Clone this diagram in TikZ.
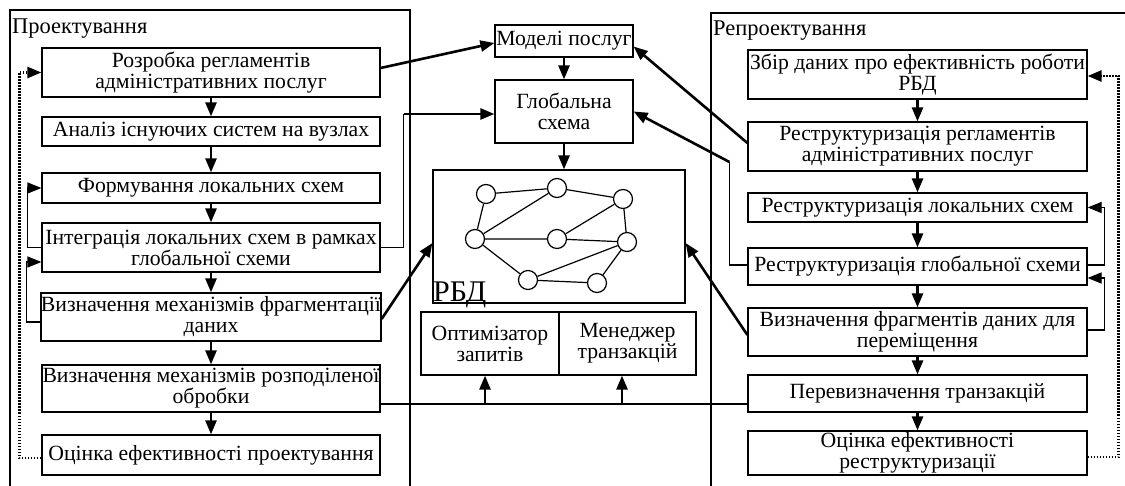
\documentclass[tikz,border=0pt]{standalone}
\usepackage{fontspec}
\setmainfont{Liberation Serif}
\usetikzlibrary{arrows.meta}
\newcommand\diafont{\fontsize{21.7}{21}\selectfont}
\newcommand\ttlfont{\fontsize{22.5}{22}\selectfont}
\begin{document}
\begin{tikzpicture}[x=1pt,y=-1pt,
  box/.style={draw, line width=1.2pt, inner sep=0pt, align=center, font=\diafont},
  lbox/.style={box, minimum width=338pt},
  rbox/.style={box, minimum width=339pt},
  frame/.style={draw, line width=1.2pt},
  thinline/.style={line width=1.2pt},
  thickline/.style={line width=2.6pt},
  arr/.style={-{Triangle[length=14pt,width=11pt]}},
  dotline/.style={line width=2.6pt, dash pattern=on 1.5pt off 1.5pt},
  vtx/.style={circle, draw, line width=1.2pt, minimum size=19pt, inner sep=0pt, fill=white},
  title/.style={anchor=base west, inner sep=0pt, font=\ttlfont}]
\useasboundingbox (0,0) rectangle (1125,486);
\clip (0,0) rectangle (1125,486);
% frames
\draw[frame] (10,495) -- (10,10) -- (410,10) -- (410,495);
\draw[frame] (711,495) -- (711,13) -- (1135,13);
\node[title] (t1) at (12,34) {Проектування};
\node[title] (t2) at (713,36) {Репроектування};
% left column
\node[lbox, minimum height=49pt] (l1) at (211,72.5) {Розробка регламентів\\адміністративних послуг};
\node[lbox, minimum height=29pt] (l2) at (211,131.5) {Аналіз існуючих систем на вузлах};
\node[lbox, minimum height=30pt] (l3) at (211,188) {Формування локальних схем};
\node[lbox, minimum height=49pt] (l4) at (211,247.5) {Інтеграція локальних схем в рамках\\глобальної схеми};
\node[lbox, minimum height=48pt] (l5) at (211,317) {Визначення механізмів фрагментації\\даних};
\node[lbox, minimum height=47pt] (l6) at (211,388.5) {Визначення механізмів розподіленої\\обробки};
\node[lbox, minimum height=40pt] (l7) at (211,455) {Оцінка ефективності проектування};
% right column
\node[rbox, minimum height=49pt] (r1) at (917.5,74.5) {Збір даних про ефективність роботи\\РБД};
\node[rbox, minimum height=49pt] (r2) at (917.5,146.5) {Реструктуризація регламентів\\адміністративних послуг};
\node[rbox, minimum height=29pt] (r3) at (917.5,207.5) {Реструктуризація локальних схем};
\node[rbox, minimum height=37pt] (r4) at (917.5,266.5) {Реструктуризація глобальної схеми};
\node[rbox, minimum height=48pt] (r5) at (917.5,332) {Визначення фрагментів даних для\\переміщення};
\node[rbox, minimum height=37pt] (r6) at (917.5,393.5) {Перевизначення транзакцій};
\node[rbox, minimum height=44pt] (r7) at (917.5,453) {Оцінка ефективності\\реструктуризації};
% centre
\node[box, minimum width=138pt, minimum height=32pt] (mod) at (564,41) {Моделі послуг};
\node[box, minimum width=138pt, minimum height=63pt] (glob) at (564,111.5) {Глобальна\\схема};
\node[box, minimum width=252pt, minimum height=133pt] (rbd) at (559,236.5) {};
\node[anchor=base west, inner sep=0pt, font=\fontsize{30}{30}\selectfont] (rbdl) at (433,302) {РБД};
\node[box, minimum width=138pt, minimum height=63pt] (opt) at (490,343.5) {Оптимізатор\\запитів};
\node[box, minimum width=137pt, minimum height=63pt] (mgr) at (627.5,343.5) {Менеджер\\транзакцій};
% graph
\node[vtx] (c1) at (486,194) {};
\node[vtx] (c2) at (557,188) {};
\node[vtx] (c3) at (623,199) {};
\node[vtx] (c4) at (475,239) {};
\node[vtx] (c5) at (557,239) {};
\node[vtx] (c6) at (627,242) {};
\node[vtx] (c7) at (528,280) {};
\node[vtx] (c8) at (597,283) {};
\draw[thinline] (c1) -- (c2) (c2) -- (c3) (c1) -- (c4) (c4) -- (c2) (c3) -- (c6)
  (c4) -- (c5) (c5) -- (c3) (c5) -- (c6) (c4) -- (c7) (c7) -- (c6) (c7) -- (c8) (c8) -- (c6);
% vertical flow arrows
\foreach \a/\b in {l1/l2,l2/l3,l3/l4,l4/l5,l5/l6,l6/l7,r1/r2,r2/r3,r3/r4,r4/r5,r5/r6,r6/r7,mod/glob}
  \draw[thickline,arr] (\a.south) -- (\b.north);
\draw[thickline,arr] (glob.south) -- (glob.south |- rbd.north);
% left feedback
\draw[thinline,arr] (l4.west) -- ++(-14,0) |- (l3.west);
\draw[thinline,arr] ([yshift=-5pt]l5.west) -- ++(-14,0) |- ([yshift=-14.5pt]l4.west);
\draw[dotline,arr] ([yshift=-3pt]l7.west) -- ++(-22,0) |- (l1.west);
% right feedback
\draw[thinline,arr] ([yshift=1.5pt]r4.east) -- ++(17,0) |- (r3.east);
\draw[thinline,arr] ([yshift=2pt]r5.east) -- ++(17,0) |- ([yshift=-11.5pt]r4.east);
\draw[dotline,arr] ([yshift=-4pt]r7.east) -- ++(31,0) |- ([yshift=-1.5pt]r1.east);
% left to centre
\draw[thickline,arr] ([yshift=4.5pt]l1.east) -- ([yshift=-2pt]mod.west);
\draw[thinline] (l4.east) -- ++(23,0) -- ++(0,-133.5) coordinate (k1);
\draw[thickline,arr] (k1) -- (k1 -| glob.west);
\draw[thickline,arr] ([yshift=-2pt]l5.east) -- ([yshift=-6.5pt]rbd.west);
% right to centre
\draw[thickline,arr] ([yshift=3.5pt]r2.west) -- ([yshift=-5.5pt]mod.east);
\draw[thinline] ([yshift=1.5pt]r4.west) -- ++(-18,0) -- ++(0,-103) coordinate (k2);
\draw[thickline,arr] (k2) -- (glob.east);
\draw[thickline,arr] ([yshift=-3pt]r5.west) -- ([yshift=-6.5pt]rbd.east);
% transaction line
\coordinate (h1) at ([yshift=-15.5pt]l6.east);
\draw[thinline] (h1) -- (h1 -| r6.west);
\draw[thickline,arr] ([xshift=-5pt]opt.south |- h1) -- ([xshift=-5pt]opt.south);
\draw[thickline,arr] ([xshift=-5.5pt]mgr.south |- h1) -- ([xshift=-5.5pt]mgr.south);
\end{tikzpicture}
\end{document}
